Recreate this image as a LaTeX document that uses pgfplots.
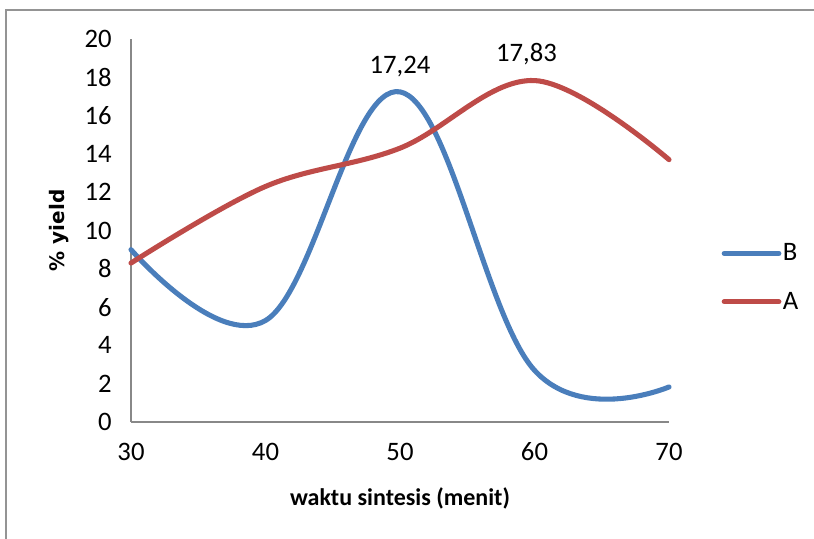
\documentclass[border=0pt]{standalone}
\usepackage{pgfplots}
\pgfplotsset{compat=1.18}
\usepackage{fontspec}
\setmainfont{Carlito}
\newfontfamily\ylabfont{DejaVu Sans}

\definecolor{serB}{HTML}{4A7EBB}
\definecolor{serA}{HTML}{BE4B48}
\definecolor{axgray}{HTML}{888888}

\begin{document}
\begin{tikzpicture}
\useasboundingbox (0pt,0pt) rectangle (610.5pt,404.25pt);
% outer chart frame
\draw[axgray!90, line width=1.2pt] (4.5pt,-5pt) -- (4.5pt,396.75pt) -- (620pt,396.75pt);
\begin{axis}[
  at={(98.25pt,87.75pt)}, anchor=south west,
  width=403.5pt, height=287.25pt, scale only axis,
  xmin=30, xmax=70, ymin=0, ymax=20,
  xtick={30,40,50,60,70}, ytick={0,2,...,20},
  axis x line*=bottom, axis y line*=left,
  axis line style={axgray, line width=1pt, -},
  major tick length=0pt,
  /pgf/number format/assume math mode=true,
  tick label style={font=\fontsize{20}{22}\selectfont},
  yticklabel style={xshift=-11pt},
  xticklabel style={yshift=-12pt},
  xlabel={\bfseries waktu sintesis (menit)},
  xlabel style={font=\fontsize{18}{20}\selectfont, yshift=-13pt},
  ylabel={\ylabfont\bfseries \% yield},
  ylabel style={font=\fontsize{15}{17}\selectfont, yshift=5pt},
  legend style={at={(1.090,0.377)}, anchor=west, draw=none, fill=none,
    font=\fontsize{20}{22}\selectfont, row sep=20pt,
    nodes={inner sep=1pt}},
  legend cell align=left,
  legend image code/.code={\draw[#1, line cap=round] (0pt,0pt) -- (41pt,0pt);},
  every axis plot/.append style={line width=3.8pt, line cap=round},
  clip=false,
]
\addplot[serB, smooth, tension=0.65] coordinates {(30,9.0) (40,5.3) (50,17.24) (60,2.7) (70,1.83)};
\addlegendentry{B}
\addplot[serA, smooth, tension=0.6] coordinates {(30,8.3) (40,12.3) (50,14.3) (60,17.83) (70,13.7)};
\addlegendentry{A}
\node[font=\fontsize{20}{22}\selectfont, above, yshift=8pt] at (axis cs:50,17.24) {17,24};
\node[font=\fontsize{20}{22}\selectfont, above, yshift=8pt, xshift=-6pt] at (axis cs:60,17.83) {17,83};
\end{axis}
\end{tikzpicture}
\end{document}
